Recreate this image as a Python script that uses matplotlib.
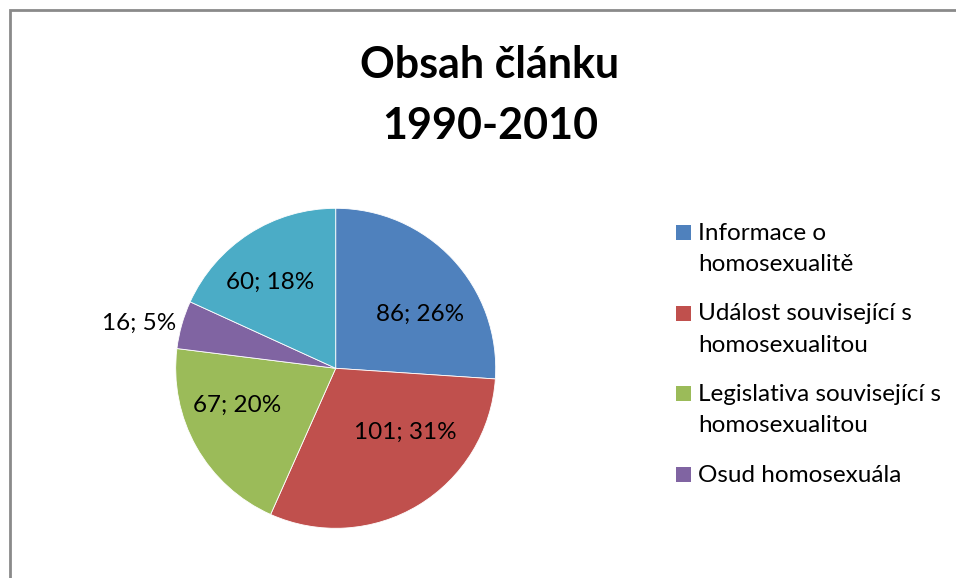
import matplotlib.pyplot as plt
import numpy as np
from matplotlib.patches import Rectangle

plt.rcParams["font.family"] = ["Lato", "DejaVu Sans"]

# data
values = [86, 101, 67, 16, 60]
colors = ["#4F81BD", "#C0504D", "#9BBB59", "#8064A2", "#4BACC6"]
# the source legend is cut off after four entries
legend_labels = [
    "Informace o\nhomosexualitě",
    "Událost související s\nhomosexualitou",
    "Legislativa související s\nhomosexualitou",
    "Osud homosexuála",
]
title = "Obsah článku\n1990-2010"

W, H = 956, 578
fig = plt.figure(figsize=(W / 100, H / 100), dpi=100)


def fx(px):
    return px / W


def fy(py):
    # py measured from the top of the image
    return 1 - py / H


# grey frame (only top and left edge visible)
fig.add_artist(Rectangle((fx(9.5), -0.1), 2, fy(10.5) + 0.1,
                         transform=fig.transFigure, fill=False,
                         edgecolor="#8a8a8a", linewidth=2))

# pie
cx, cy, r = 335.7, 368.3, 160
ax = fig.add_axes([fx(cx - r), fy(cy + r), 2 * r / W, 2 * r / H])
wedges, _ = ax.pie(values, colors=colors, startangle=90, counterclock=False,
                   radius=1, wedgeprops=dict(edgecolor="white", linewidth=0.6))
ax.set_xlim(-1, 1)
ax.set_ylim(-1, 1)
ax.set_aspect("equal")
ax.axis("off")

# label placement (Excel "best fit" look): angle shift and radius per slice
label_dtheta = [-10.5, 16.5, -8.6, 3.0, 4.7]
label_rad = [0.626, 0.593, 0.656, 1.26, 0.676]
total = sum(values)
for w, v, dt, rr in zip(wedges, values, label_dtheta, label_rad):
    ang = np.deg2rad((w.theta1 + w.theta2) / 2 + dt)
    ax.text(rr * np.cos(ang), rr * np.sin(ang), f"{v}; {round(100 * v / total)}%",
            ha="center", va="center", fontsize=17.5, color="black")

# title, one baseline per line
for j, line in enumerate(title.split("\n")):
    fig.text(fx(490), fy(78 + 61 * j), line, ha="center", va="baseline",
             fontsize=31, fontweight="bold")

# legend drawn by hand so that the square sits at the first text line
y0 = 240
for i, (lab, col) in enumerate(zip(legend_labels, colors)):
    yb = y0 + 80.5 * i
    fig.add_artist(Rectangle((fx(676), fy(yb)), 15 / W, 15 / H,
                             transform=fig.transFigure, facecolor=col,
                             edgecolor="none"))
    for j, line in enumerate(lab.split("\n")):
        fig.text(fx(698), fy(yb + 31 * j), line, ha="left", va="baseline",
                 fontsize=17.5)

fig.savefig("out.png", dpi=100)
